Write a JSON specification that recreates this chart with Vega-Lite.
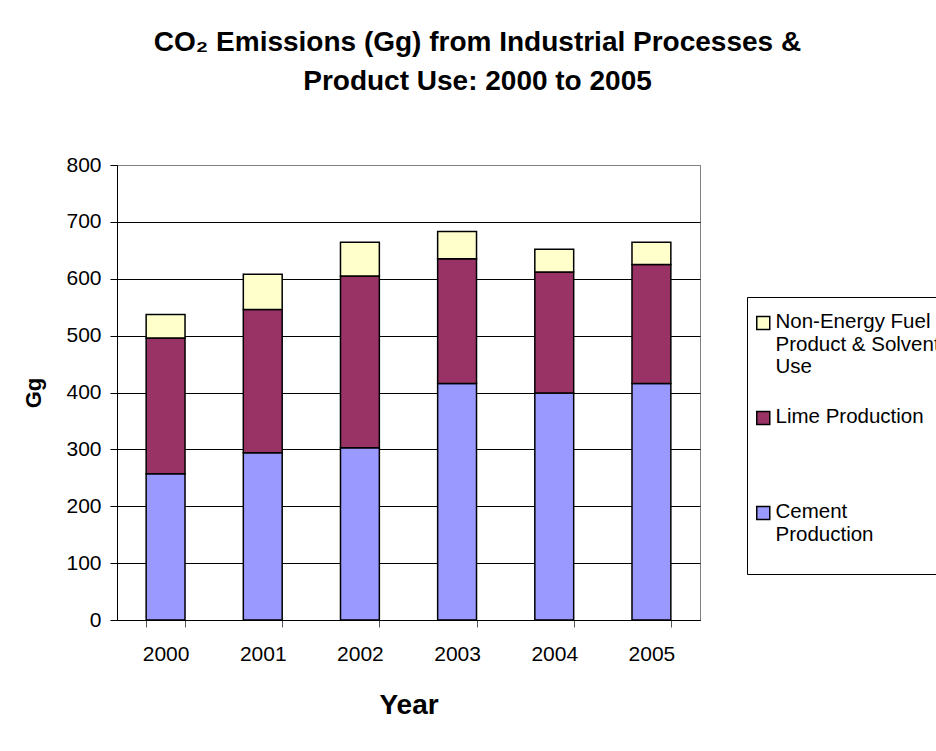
{
  "$schema": "https://vega.github.io/schema/vega-lite/v6.json",
  "width": 583,
  "height": 455,
  "autosize": {"type": "none"},
  "padding": {"left": 117, "top": 165, "right": 236, "bottom": 131},
  "background": "white",
  "title": {
    "text": ["CO₂ Emissions (Gg) from Industrial Processes &", "Product Use: 2000 to 2005"],
    "font": "Liberation Sans",
    "fontSize": 28,
    "fontWeight": "bold",
    "lineHeight": 39,
    "anchor": "middle",
    "dx": 69,
    "offset": 58,
    "color": "black"
  },
  "data": {
    "values": [
      {"year": "2000", "series": "Cement Production", "gg": 257},
      {"year": "2000", "series": "Lime Production", "gg": 239},
      {"year": "2000", "series": "Non-Energy Fuel Product & Solvent Use", "gg": 41},
      {"year": "2001", "series": "Cement Production", "gg": 294},
      {"year": "2001", "series": "Lime Production", "gg": 252},
      {"year": "2001", "series": "Non-Energy Fuel Product & Solvent Use", "gg": 62},
      {"year": "2002", "series": "Cement Production", "gg": 303},
      {"year": "2002", "series": "Lime Production", "gg": 302},
      {"year": "2002", "series": "Non-Energy Fuel Product & Solvent Use", "gg": 59},
      {"year": "2003", "series": "Cement Production", "gg": 416},
      {"year": "2003", "series": "Lime Production", "gg": 219},
      {"year": "2003", "series": "Non-Energy Fuel Product & Solvent Use", "gg": 48},
      {"year": "2004", "series": "Cement Production", "gg": 399},
      {"year": "2004", "series": "Lime Production", "gg": 213},
      {"year": "2004", "series": "Non-Energy Fuel Product & Solvent Use", "gg": 40},
      {"year": "2005", "series": "Cement Production", "gg": 416},
      {"year": "2005", "series": "Lime Production", "gg": 209},
      {"year": "2005", "series": "Non-Energy Fuel Product & Solvent Use", "gg": 39}
    ]
  },
  "mark": {"type": "bar", "stroke": "black", "strokeWidth": 1.5},
  "encoding": {
    "x": {
      "field": "year",
      "type": "nominal",
      "scale": {"paddingInner": 0.6, "paddingOuter": 0.3},
      "axis": {
        "title": "Year",
        "titleFontSize": 28,
        "titleFontWeight": "bold",
        "titleColor": "black",
        "titlePadding": 27,
        "labelAngle": 0,
        "labelFontSize": 21,
        "labelColor": "black",
        "labelPadding": 16,
        "tickBand": "extent",
        "tickSize": 7,
        "tickColor": "#555555",
        "domainColor": "black",
        "grid": false
      }
    },
    "y": {
      "field": "gg",
      "type": "quantitative",
      "stack": "zero",
      "scale": {"domain": [0, 800], "nice": false},
      "axis": {
        "title": "Gg",
        "titleFontSize": 22,
        "titleFontWeight": "bold",
        "titleColor": "black",
        "titlePadding": 20,
        "values": [0, 100, 200, 300, 400, 500, 600, 700, 800],
        "labelFontSize": 21,
        "labelColor": "black",
        "labelPadding": 9,
        "tickSize": 7,
        "tickColor": "black",
        "domainColor": "black",
        "grid": true,
        "gridColor": {"condition": {"test": "datum.value == 800", "value": "#808080"}, "value": "black"},
        "gridOpacity": 1,
        "gridWidth": 1
      }
    },
    "color": {
      "field": "series",
      "type": "nominal",
      "scale": {
        "domain": ["Non-Energy Fuel Product & Solvent Use", "Lime Production", "Cement Production"],
        "range": ["#FFFFCC", "#993366", "#9999FF"]
      },
      "legend": {
        "orient": "none",
        "legendX": 630,
        "legendY": 132,
        "title": null,
        "direction": "vertical",
        "symbolType": "square",
        "symbolSize": 169,
        "symbolStrokeColor": "black",
        "symbolStrokeWidth": 1.5,
        "symbolOpacity": 1,
        "labelFontSize": 20.5,
        "labelColor": "black",
        "labelOffset": 2,
        "labelLimit": 400,
        "labelBaseline": "top",
        "labelExpr": "datum.label == 'Non-Energy Fuel Product & Solvent Use' ? ['Non-Energy Fuel', 'Product & Solvent', 'Use'] : (datum.label == 'Cement Production' ? ['Cement', 'Production', ''] : [datum.label, '', ''])",
        "encode": {"labels": {"update": {"dy": {"value": -11}}}},
        "strokeColor": "black",
        "fillColor": "white",
        "padding": 6,
        "clipHeight": 40,
        "rowPadding": 20
      }
    },
    "order": {"field": "series", "sort": "ascending"}
  },
  "config": {
    "font": "Liberation Sans",
    "view": {"stroke": "#808080", "strokeWidth": 1}
  }
}
